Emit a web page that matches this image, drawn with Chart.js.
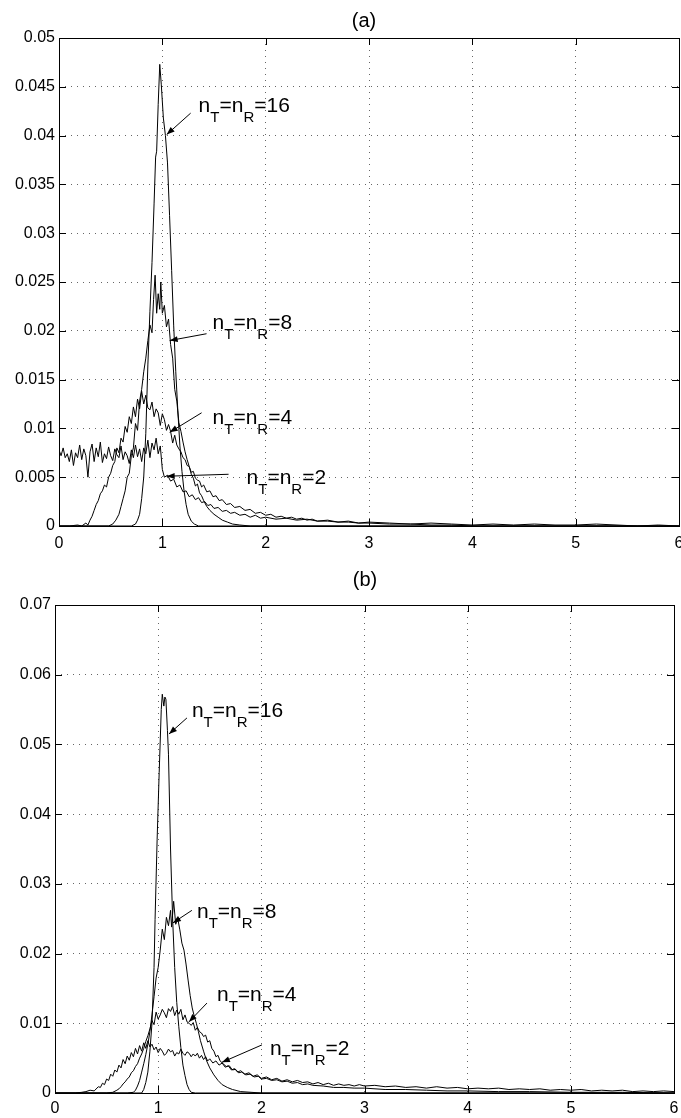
<!DOCTYPE html>
<html>
<head>
<meta charset="utf-8">
<script src="https://cdn.jsdelivr.net/npm/chart.js@4.4.1/dist/chart.umd.min.js"></script>
<style>
  html, body { margin: 0; padding: 0; background: #fff; }
  .box { position: absolute; left: 0; width: 681px; }
  #boxA { top: 0; height: 560px; }
  #boxB { top: 560px; height: 558px; }
</style>
</head>
<body>
<div class="box" id="boxA"><canvas id="chartA" width="681" height="560"></canvas></div>
<div class="box" id="boxB"><canvas id="chartB" width="681" height="558"></canvas></div>
<script>
// 軸の目盛り
const xTicks = [0, 1, 2, 3, 4, 5, 6];
const yTicksA = [0, 0.005, 0.01, 0.015, 0.02, 0.025, 0.03, 0.035, 0.04, 0.045, 0.05];
const yTicksB = [0, 0.01, 0.02, 0.03, 0.04, 0.05, 0.06, 0.07];

// (a) の分布  [x, 頻度]
const a2 = [[0,0.0078],[0.02,0.0072],[0.04,0.0080],[0.06,0.0070],[0.08,0.0074],[0.10,0.0066],[0.12,0.0078],[0.14,0.0062],
  [0.16,0.0075],[0.18,0.0070],[0.20,0.0083],[0.22,0.0068],[0.24,0.0079],[0.26,0.0072],[0.28,0.0050],[0.30,0.0076],
  [0.32,0.0084],[0.34,0.0066],[0.36,0.0080],[0.38,0.0071],[0.40,0.0086],[0.42,0.0065],[0.44,0.0074],[0.46,0.0069],
  [0.48,0.0081],[0.50,0.0072],[0.52,0.0067],[0.54,0.0079],[0.56,0.0073],[0.58,0.0070],[0.60,0.0082],[0.62,0.0068],
  [0.64,0.0076],[0.66,0.0072],[0.68,0.0064],[0.70,0.0078],[0.72,0.0070],[0.74,0.0083],[0.76,0.0071],[0.78,0.0079],
  [0.80,0.0066],[0.82,0.0080],[0.84,0.0074],[0.86,0.0088],[0.88,0.0070],[0.90,0.0085],[0.92,0.0078],[0.94,0.0090],
  [0.96,0.0074],[0.98,0.0082],[1.00,0.0058],[1.02,0.0050],[1.05,0.0052],[1.08,0.0046],[1.11,0.0048],[1.14,0.0040],
  [1.17,0.0042],[1.20,0.0035],[1.23,0.0036],[1.26,0.0030],[1.29,0.0032],[1.32,0.0027],[1.35,0.0029],[1.38,0.0024],
  [1.41,0.0025],[1.44,0.0021],[1.47,0.0022],[1.50,0.0018],[1.54,0.0019],[1.58,0.0015],[1.62,0.0016],[1.66,0.0013],
  [1.70,0.0014],[1.75,0.0011],[1.80,0.0012],[1.85,0.0009],[1.90,0.0011],[1.95,0.0008],[2.00,0.0009],[2.1,0.0007],
  [2.2,0.0008],[2.3,0.0006],[2.4,0.0007],[2.5,0.0005],[2.6,0.0006],[2.7,0.0004],[2.8,0.0005],[2.9,0.0003],[3.0,0.0004],
  [3.2,0.0003],[3.4,0.0002],[3.6,0.0003],[3.8,0.0002],[4.0,0.0001],[4.2,0.0002],[4.4,0.0001],[4.6,0.0002],[4.8,0.0001],
  [5.0,0.0001],[5.2,0.0002],[5.4,0.0001],[5.6,0],[5.8,0.0001],[6.0,0]];
const a4 = [[0,0],[0.10,0],[0.18,0.0001],[0.22,0],[0.26,0.0003],[0.28,0.0001],[0.30,0.0006],[0.32,0.0010],[0.34,0.0016],
  [0.36,0.0022],[0.38,0.0026],[0.40,0.0033],[0.42,0.0036],[0.44,0.0042],[0.46,0.0040],[0.48,0.0050],[0.50,0.0054],
  [0.52,0.0062],[0.54,0.0066],[0.56,0.0080],[0.58,0.0075],[0.60,0.0090],[0.62,0.0086],[0.64,0.0102],[0.66,0.0096],
  [0.68,0.0112],[0.70,0.0105],[0.72,0.0122],[0.74,0.0112],[0.76,0.0130],[0.78,0.0120],[0.80,0.0138],[0.82,0.0125],
  [0.84,0.0134],[0.86,0.0121],[0.88,0.0119],[0.90,0.0127],[0.92,0.0112],[0.94,0.0120],[0.96,0.0116],[0.98,0.0103],
  [1.00,0.0115],[1.02,0.0109],[1.04,0.0098],[1.06,0.0104],[1.08,0.0097],[1.10,0.0085],[1.12,0.0093],[1.14,0.0083],
  [1.16,0.0079],[1.18,0.0076],[1.20,0.0070],[1.22,0.0068],[1.24,0.0062],[1.26,0.0061],[1.28,0.0055],[1.30,0.0056],
  [1.32,0.0049],[1.34,0.0047],[1.36,0.0046],[1.38,0.0040],[1.40,0.0042],[1.43,0.0035],[1.46,0.0036],[1.49,0.0030],
  [1.52,0.0031],[1.55,0.0026],[1.58,0.0027],[1.62,0.0022],[1.66,0.0023],[1.70,0.0019],[1.75,0.0020],[1.80,0.0016],
  [1.85,0.0017],[1.90,0.0013],[1.95,0.0014],[2.00,0.0011],[2.05,0.0012],[2.10,0.0009],[2.15,0.0010],[2.20,0.0008],
  [2.25,0.0009],[2.30,0.0007],[2.35,0.0008],[2.40,0.0006],[2.45,0.0007],[2.50,0.0005],[2.60,0.0005],[2.70,0.0004],
  [2.80,0.0004],[2.90,0.0003],[3.00,0.0003],[3.2,0.0002],[3.4,0.0002],[3.6,0.0001],[3.8,0.0001],[4.0,0],[6.0,0]];
const a8 = [[0,0],[0.48,0],[0.52,0.0002],[0.55,0.0006],[0.58,0.0012],[0.60,0.0020],[0.62,0.0028],[0.64,0.0036],
  [0.66,0.0050],[0.68,0.0054],[0.70,0.0072],[0.72,0.0080],[0.74,0.0105],[0.76,0.0098],[0.78,0.0128],[0.80,0.0140],
  [0.82,0.0158],[0.84,0.0172],[0.86,0.0190],[0.88,0.0206],[0.90,0.0198],[0.915,0.0232],[0.93,0.0257],[0.945,0.0218],
  [0.96,0.0238],[0.975,0.0222],[0.985,0.0250],[1.00,0.0218],[1.02,0.0226],[1.04,0.0204],[1.06,0.0212],[1.08,0.0186],
  [1.10,0.0172],[1.12,0.0140],[1.14,0.0128],[1.16,0.0106],[1.18,0.0097],[1.20,0.0086],[1.22,0.0076],[1.24,0.0068],
  [1.26,0.0061],[1.28,0.0053],[1.30,0.0049],[1.32,0.0041],[1.34,0.0043],[1.36,0.0034],[1.38,0.0031],[1.40,0.0026],
  [1.43,0.0020],[1.46,0.0016],[1.50,0.0012],[1.54,0.0009],[1.58,0.0006],[1.63,0.0004],[1.68,0.0002],[1.75,0.0001],
  [1.85,0],[6,0]];
const a16 = [[0,0],[0.70,0],[0.74,0.0002],[0.76,0.0006],[0.78,0.0012],[0.80,0.0028],[0.82,0.0050],[0.84,0.0095],
  [0.86,0.0165],[0.88,0.0220],[0.90,0.0270],[0.92,0.0330],[0.935,0.0378],[0.945,0.0384],[0.96,0.0432],[0.975,0.0473],
  [0.99,0.0452],[1.01,0.0418],[1.03,0.0400],[1.05,0.0372],[1.07,0.0318],[1.09,0.0262],[1.11,0.0205],[1.13,0.0158],
  [1.15,0.0118],[1.17,0.0082],[1.19,0.0056],[1.21,0.0036],[1.23,0.0022],[1.25,0.0012],[1.28,0.0005],[1.31,0.0002],
  [1.35,0],[6,0]];

// (b) の分布  [x, 頻度]
const b2 = [[0,0],[0.20,0],[0.26,0.0001],[0.30,0.0002],[0.34,0.0004],[0.38,0.0003],[0.42,0.0009],[0.44,0.0008],
  [0.46,0.0014],[0.48,0.0012],[0.50,0.0020],[0.52,0.0018],[0.54,0.0027],[0.56,0.0024],[0.58,0.0033],[0.60,0.0030],
  [0.62,0.0040],[0.64,0.0036],[0.66,0.0048],[0.68,0.0042],[0.70,0.0053],[0.72,0.0047],[0.74,0.0058],[0.76,0.0052],
  [0.78,0.0064],[0.80,0.0056],[0.82,0.0068],[0.84,0.0060],[0.86,0.0072],[0.88,0.0064],[0.90,0.0075],[0.92,0.0066],
  [0.94,0.0070],[0.96,0.0062],[0.98,0.0066],[1.00,0.0058],[1.02,0.0064],[1.04,0.0060],[1.06,0.0054],[1.08,0.0057],
  [1.10,0.0063],[1.12,0.0059],[1.14,0.0061],[1.16,0.0053],[1.18,0.0058],[1.20,0.0056],[1.22,0.0063],[1.24,0.0057],
  [1.26,0.0054],[1.28,0.0059],[1.30,0.0057],[1.32,0.0052],[1.34,0.0056],[1.36,0.0053],[1.38,0.0057],[1.40,0.0050],
  [1.42,0.0054],[1.44,0.0048],[1.46,0.0052],[1.48,0.0046],[1.50,0.0049],[1.53,0.0043],[1.56,0.0046],[1.59,0.0040],
  [1.62,0.0043],[1.65,0.0037],[1.68,0.0039],[1.71,0.0033],[1.74,0.0035],[1.77,0.0030],[1.80,0.0032],[1.84,0.0027],
  [1.88,0.0029],[1.92,0.0024],[1.96,0.0026],[2.00,0.0021],[2.05,0.0023],[2.10,0.0019],[2.15,0.0021],[2.20,0.0017],
  [2.25,0.0019],[2.30,0.0016],[2.35,0.0018],[2.40,0.0015],[2.45,0.0016],[2.50,0.0013],[2.55,0.0015],[2.60,0.0012],
  [2.65,0.0014],[2.70,0.0011],[2.75,0.0013],[2.80,0.0011],[2.85,0.0012],[2.90,0.0010],[2.95,0.0012],[3.00,0.0010],
  [3.1,0.0011],[3.2,0.0009],[3.3,0.0010],[3.4,0.0008],[3.5,0.0009],[3.6,0.0007],[3.7,0.0009],[3.8,0.0007],[3.9,0.0008],
  [4.0,0.0006],[4.1,0.0007],[4.2,0.0006],[4.3,0.0007],[4.4,0.0005],[4.5,0.0006],[4.6,0.0005],[4.7,0.0006],[4.8,0.0004],
  [4.9,0.0005],[5.0,0.0004],[5.1,0.0005],[5.2,0.0003],[5.3,0.0004],[5.4,0.0003],[5.5,0.0004],[5.6,0.0002],[5.7,0.0003],
  [5.8,0.0002],[5.9,0.0003],[6.0,0.0002]];
const b4 = [[0,0],[0.50,0],[0.56,0.0001],[0.60,0.0004],[0.62,0.0006],[0.64,0.0009],[0.66,0.0013],[0.68,0.0016],
  [0.70,0.0020],[0.72,0.0023],[0.74,0.0029],[0.76,0.0032],[0.78,0.0038],[0.80,0.0042],[0.82,0.0050],[0.84,0.0056],
  [0.86,0.0064],[0.88,0.0074],[0.90,0.0082],[0.92,0.0092],[0.94,0.0104],[0.96,0.0098],[0.98,0.0116],[1.00,0.0106],
  [1.02,0.0112],[1.04,0.0120],[1.06,0.0115],[1.08,0.0108],[1.10,0.0121],[1.12,0.0117],[1.14,0.0124],[1.16,0.0111],
  [1.18,0.0119],[1.20,0.0113],[1.22,0.0120],[1.24,0.0105],[1.26,0.0112],[1.28,0.0102],[1.30,0.0100],[1.32,0.0097],
  [1.34,0.0101],[1.36,0.0090],[1.38,0.0094],[1.40,0.0088],[1.42,0.0086],[1.44,0.0081],[1.46,0.0083],[1.48,0.0073],
  [1.50,0.0075],[1.52,0.0064],[1.54,0.0060],[1.56,0.0052],[1.58,0.0054],[1.60,0.0046],[1.63,0.0042],[1.66,0.0038],
  [1.69,0.0039],[1.72,0.0033],[1.75,0.0034],[1.78,0.0029],[1.81,0.0030],[1.85,0.0026],[1.89,0.0027],[1.93,0.0023],
  [1.97,0.0024],[2.00,0.0020],[2.05,0.0021],[2.10,0.0018],[2.15,0.0019],[2.20,0.0016],[2.25,0.0017],[2.30,0.0014],
  [2.35,0.0015],[2.40,0.0012],[2.45,0.0013],[2.50,0.0011],[2.60,0.0010],[2.70,0.0008],[2.80,0.0008],[2.90,0.0007],
  [3.00,0.0007],[3.2,0.0005],[3.4,0.0005],[3.6,0.0004],[3.8,0.0003],[4.0,0.0003],[4.3,0.0002],[4.6,0.0002],[5.0,0.0001],
  [5.5,0.0001],[6.0,0]];
const b8 = [[0,0],[0.70,0],[0.76,0.0001],[0.78,0.0004],[0.80,0.0010],[0.82,0.0018],[0.84,0.0030],[0.86,0.0042],
  [0.88,0.0055],[0.90,0.0070],[0.92,0.0088],[0.94,0.0112],[0.96,0.0138],[0.98,0.0165],[1.00,0.0180],[1.02,0.0205],
  [1.04,0.0235],[1.06,0.0220],[1.08,0.0252],[1.10,0.0240],[1.12,0.0262],[1.13,0.0238],[1.15,0.0275],[1.17,0.0242],
  [1.19,0.0250],[1.21,0.0234],[1.23,0.0215],[1.25,0.0205],[1.27,0.0185],[1.29,0.0162],[1.31,0.0140],[1.33,0.0122],
  [1.35,0.0110],[1.37,0.0100],[1.39,0.0088],[1.41,0.0075],[1.44,0.0060],[1.47,0.0046],[1.50,0.0036],[1.54,0.0026],
  [1.58,0.0018],[1.62,0.0012],[1.67,0.0008],[1.72,0.0005],[1.80,0.0002],[1.90,0.0001],[2.0,0],[6,0]];
const b16 = [[0,0],[0.84,0],[0.86,0.0005],[0.88,0.0015],[0.90,0.0030],[0.92,0.0060],[0.94,0.0100],[0.96,0.0180],
  [0.97,0.0249],[0.99,0.0364],[1.01,0.0460],[1.03,0.0550],[1.04,0.0572],[1.055,0.0555],[1.065,0.0568],[1.075,0.0565],
  [1.09,0.0520],[1.10,0.0486],[1.12,0.0350],[1.14,0.0250],[1.16,0.0180],[1.18,0.0130],[1.20,0.0095],[1.22,0.0065],
  [1.24,0.0040],[1.26,0.0025],[1.28,0.0012],[1.30,0.0005],[1.32,0.0001],[1.36,0],[6,0]];

// 注記 (データ座標): ラベル位置, 矢印の根元, 矢印の先
const notesA = [
  { n: '16', at: [1.351, 0.0424], tail: [1.274, 0.0423], tip: [1.042, 0.0401] },
  { n: '8',  at: [1.486, 0.0202], tail: [1.428, 0.0197], tip: [1.071, 0.0190] },
  { n: '4',  at: [1.486, 0.0104], tail: [1.380, 0.0116], tip: [1.071, 0.0096] },
  { n: '2',  at: [1.815, 0.0043], tail: [1.641, 0.0053], tip: [1.042, 0.0051] }
];
const notesB = [
  { n: '16', at: [1.327, 0.0539], tail: [1.279, 0.0538], tip: [1.105, 0.0515] },
  { n: '8',  at: [1.376, 0.0251], tail: [1.327, 0.0262], tip: [1.143, 0.0244] },
  { n: '4',  at: [1.570, 0.0132], tail: [1.473, 0.0129], tip: [1.298, 0.0102] },
  { n: '2',  at: [2.083, 0.0054], tail: [2.006, 0.0069], tip: [1.618, 0.0044] }
];

const FONT = '"Liberation Sans", Arial, Helvetica, sans-serif';

function toPoints(pairs) {
  return pairs.map(p => ({ x: p[0], y: p[1] }));
}

function tickLabel(v) {
  return v === 0 ? '0' : String(+v.toFixed(3));
}

// 矢印と n_T=n_R=.. のラベル
function drawNote(ctx, xs, ys, note) {
  const px = p => [xs.getPixelForValue(p[0]), ys.getPixelForValue(p[1])];
  const [tx, ty] = px(note.tail);
  const [hx, hy] = px(note.tip);
  ctx.beginPath();
  ctx.moveTo(tx, ty);
  ctx.lineTo(hx, hy);
  ctx.stroke();
  const ang = Math.atan2(hy - ty, hx - tx);
  const L = 8, W = 3;
  ctx.beginPath();
  ctx.moveTo(hx, hy);
  ctx.lineTo(hx - L * Math.cos(ang) + W * Math.sin(ang), hy - L * Math.sin(ang) - W * Math.cos(ang));
  ctx.lineTo(hx - L * Math.cos(ang) - W * Math.sin(ang), hy - L * Math.sin(ang) + W * Math.cos(ang));
  ctx.closePath();
  ctx.fill();

  let [lx, ly] = px(note.at);
  const parts = [['n', false], ['T', true], ['=n', false], ['R', true], ['=' + note.n, false]];
  ctx.textAlign = 'left';
  ctx.textBaseline = 'alphabetic';
  for (const [s, sub] of parts) {
    ctx.font = (sub ? '15px ' : '21px ') + FONT;
    ctx.fillText(s, lx, ly + (sub ? 10 : 0));
    lx += ctx.measureText(s).width;
  }
}

// MATLAB風の枠・内向き目盛り・タイトル・注記
const matlabLook = {
  id: 'matlabLook',
  afterDraw(chart, args, opts) {
    const { ctx, chartArea: a, scales: { x, y } } = chart;
    ctx.save();
    ctx.strokeStyle = '#000';
    ctx.fillStyle = '#000';
    ctx.lineWidth = 1;
    ctx.strokeRect(a.left + 0.5, a.top + 0.5, a.right - a.left, a.bottom - a.top);

    const T = 7;
    ctx.beginPath();
    x.ticks.forEach(t => {
      const p = Math.round(x.getPixelForValue(t.value)) + 0.5;
      ctx.moveTo(p, a.bottom); ctx.lineTo(p, a.bottom - T);
      ctx.moveTo(p, a.top); ctx.lineTo(p, a.top + T);
    });
    y.ticks.forEach(t => {
      const p = Math.round(y.getPixelForValue(t.value)) + 0.5;
      ctx.moveTo(a.left, p); ctx.lineTo(a.left + T, p);
      ctx.moveTo(a.right, p); ctx.lineTo(a.right - T, p);
    });
    ctx.stroke();

    ctx.font = '20px ' + FONT;
    ctx.textAlign = 'center';
    ctx.textBaseline = 'middle';
    ctx.fillText(opts.title, opts.titleX, opts.titleY);

    opts.notes.forEach(nt => drawNote(ctx, x, y, nt));
    ctx.restore();
  }
};

function makeChart(id, series, yTicks, yMax, box, look) {
  const ctx = document.getElementById(id).getContext('2d');
  return new Chart(ctx, {
    type: 'line',
    data: {
      datasets: series.map(s => ({
        data: toPoints(s),
        borderColor: '#000',
        borderWidth: 1,
        pointRadius: 0,
        tension: 0,
        fill: false
      }))
    },
    options: {
      responsive: false,
      animation: false,
      events: [],
      layout: { padding: { top: box.top, right: box.right, left: 0, bottom: 0 } },
      plugins: { legend: { display: false }, tooltip: { enabled: false }, matlabLook: look },
      scales: {
        x: {
          type: 'linear', min: 0, max: 6,
          afterBuildTicks: s => { s.ticks = xTicks.map(v => ({ value: v })); },
          afterFit: s => { s.height = box.xh; s.paddingLeft = 0; s.paddingRight = 0; },
          grid: { color: '#666', lineWidth: 1, drawTicks: false },
          border: { display: false, dash: [1, 5] },
          ticks: { color: '#000', padding: box.xpad, maxRotation: 0, font: { family: FONT, size: 16 }, callback: v => String(v) }
        },
        y: {
          type: 'linear', min: 0, max: yMax,
          afterBuildTicks: s => { s.ticks = yTicks.map(v => ({ value: v })); },
          afterFit: s => { s.width = box.yw; s.paddingTop = 0; s.paddingBottom = 0; },
          grid: { color: '#666', lineWidth: 1, drawTicks: false },
          border: { display: false, dash: [1, 5] },
          ticks: { color: '#000', padding: 4, font: { family: FONT, size: 16 }, callback: v => tickLabel(v) }
        }
      }
    },
    plugins: [matlabLook]
  });
}

makeChart('chartA', [a2, a4, a8, a16], yTicksA, 0.05,
  { top: 38, right: 2, xh: 34, yw: 59, xpad: 8 },
  { title: '(a)', titleX: 364, titleY: 21, notes: notesA });
makeChart('chartB', [b2, b4, b8, b16], yTicksB, 0.07,
  { top: 45, right: 7, xh: 25, yw: 55, xpad: 6 },
  { title: '(b)', titleX: 365, titleY: 20, notes: notesB });
</script>
</body>
</html>
